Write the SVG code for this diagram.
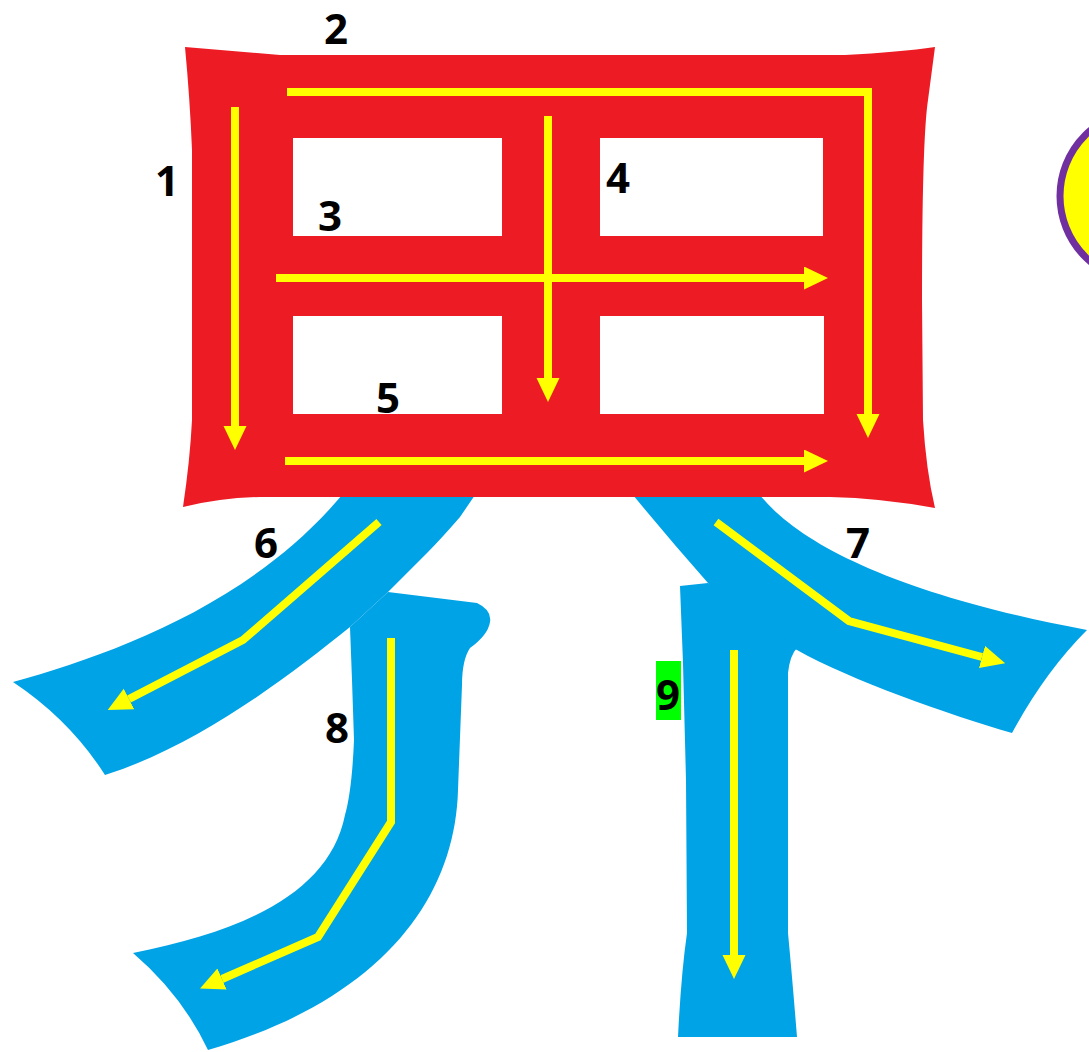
<svg xmlns="http://www.w3.org/2000/svg" width="1089" height="1052" viewBox="0 0 1089 1052">
<style>
.blue{fill:#00A3E6}
.red{fill:#ED1C24;fill-rule:evenodd}
.arr{fill:none;stroke:#FFFF00;stroke-width:8;stroke-linejoin:miter;marker-end:url(#ah)}
.lbl{font-family:"Open Sans","Liberation Sans",sans-serif;font-weight:bold;font-size:42px;fill:#000;text-anchor:middle}
</style>
<defs>
<marker id="ah" markerUnits="userSpaceOnUse" markerWidth="26" markerHeight="24" refX="0" refY="11.5" orient="auto" viewBox="0 0 26 24">
<path d="M0,0 L24,11.5 L0,23 Z" fill="#FFFF00"/>
</marker>
</defs>
<rect width="1089" height="1052" fill="#FFFFFF"/>
<g id="stroke6">
<path class="blue" d="M342,495 L475,495 L460,517 Q440,540 427,553 L388,592 L350,627 C290,675 200,745 105,775 Q70,720 13,682 C110,655 250,605 342,495 Z"/>
</g>
<g id="stroke8">
<path class="blue" d="M388,592 L477,603 Q492,610 490,622 Q488,635 470,648 Q462,660 462,685 L458,790 C455,900 380,1000 208,1050 Q182,995 133,953 C250,930 330,890 345,815 Q352,790 354,740 L352,680 L350,627 Z"/>
</g>
<g id="stroke7">
<path class="blue" d="M633,495 L760,495 C800,545 900,595 1087,630 Q1045,672 1012,733 C950,715 850,680 797,650 L740,620 L708,583 Q670,540 633,495 Z"/>
</g>
<g id="stroke9">
<path class="blue" d="M680,586 L708,583 L797,648 Q790,655 788,673 L788,933 Q792,975 797,1037 L678,1037 Q681,975 687,933 L686,780 L683,663 Z"/>
</g>
<g id="mouth">
<path class="red" d="M185,47 L280,55 L845,55 Q900,52 935,47 L928,100 Q922,140 922,300 L923,420 Q926,470 935,508 Q880,498 830,497 L260,497 Q220,498 183,507 Q190,460 192,420 L192,150 Q190,100 185,47 Z M293,138 L502,138 L502,236 L293,236 Z M600,138 L823,138 L823,236 L600,236 Z M293,316 L502,316 L502,414 L293,414 Z M600,316 L824,316 L824,414 L600,414 Z"/>
</g>
<g id="circle">
<circle cx="1146" cy="196" r="86" fill="#FFFF00" stroke="#7030A0" stroke-width="7"/>
</g>
<g id="connectors">
<path class="arr" d="M235,107 V426"/>
<path class="arr" d="M287,92 H868 V414"/>
<path class="arr" d="M276,278 H804"/>
<path class="arr" d="M548,116 V378"/>
<path class="arr" d="M285,461 H804"/>
<path class="arr" d="M379,522 L243,640 L129,699"/>
<path class="arr" d="M716,522 L849,621 L982,657"/>
<path class="arr" d="M391,638 V822 L318,937 L222,979"/>
<path class="arr" d="M734,650 V955"/>
</g>
<g id="labels">
<text class="lbl" x="167" y="196">1</text>
<text class="lbl" x="336" y="44">2</text>
<text class="lbl" x="330" y="231">3</text>
<text class="lbl" x="618" y="193">4</text>
<text class="lbl" x="388" y="413">5</text>
<text class="lbl" x="266" y="558">6</text>
<text class="lbl" x="858" y="558">7</text>
<text class="lbl" x="337" y="743">8</text>
<rect x="656" y="661" width="25" height="59" fill="#00FF00"/>
<text class="lbl" x="668" y="710">9</text>
</g>
</svg>
